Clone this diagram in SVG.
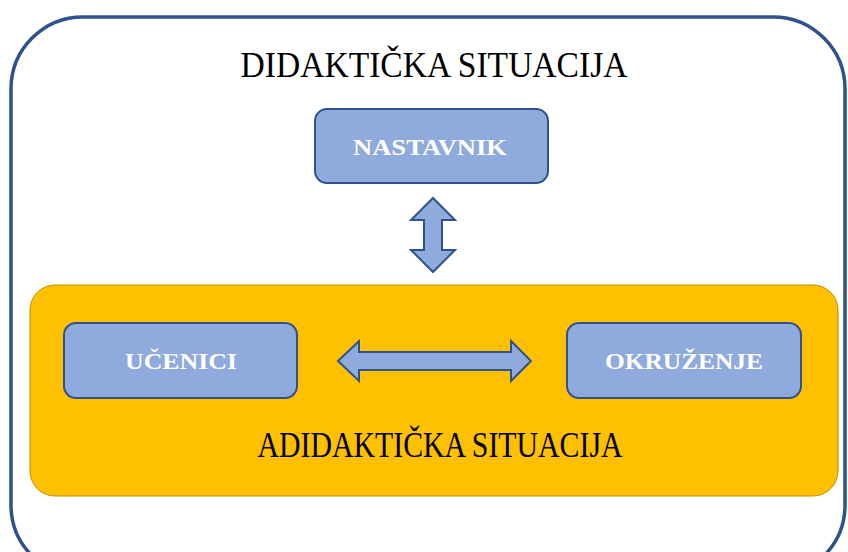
<svg xmlns="http://www.w3.org/2000/svg" width="848" height="552" viewBox="0 0 848 552">
<style>
.node rect{fill:#8FAADC;stroke:#2F528F;stroke-width:2}
.lbl{font-family:"Liberation Serif",serif;font-weight:bold;font-size:24px;fill:#FFFFFF;text-anchor:middle}
.title{font-family:"Liberation Serif",serif;font-size:36px;fill:#000000;text-anchor:middle}
.arrow{fill:#8FAADC;stroke:#2F528F;stroke-width:2;stroke-linejoin:miter}
</style>
<rect width="848" height="552" fill="#FFFFFF"/>
<g id="didakticka">
<rect x="11" y="17" width="834" height="560" rx="72" ry="72" fill="#FFFFFF" stroke="#2F528F" stroke-width="3.5"/>
<text class="title" x="434" y="77" textLength="387" lengthAdjust="spacingAndGlyphs">DIDAKTIČKA SITUACIJA</text>
</g>
<g id="adidakticka">
<rect x="30" y="285" width="808" height="211" rx="25" ry="25" fill="#FFC000" stroke="#BF9000" stroke-width="1"/>
<text class="title" x="440" y="457" font-size="31" textLength="365" lengthAdjust="spacingAndGlyphs">ADIDAKTIČKA SITUACIJA</text>
</g>
<g id="nastavnik" class="node">
<rect x="315" y="109" width="233" height="74" rx="12" ry="12"/>
<text class="lbl" x="430" y="155" textLength="154" lengthAdjust="spacingAndGlyphs">NASTAVNIK</text>
</g>
<g id="ucenici" class="node">
<rect x="64" y="323" width="233" height="75" rx="12" ry="12"/>
<text class="lbl" x="181" y="369" textLength="112" lengthAdjust="spacingAndGlyphs">UČENICI</text>
</g>
<g id="okruzenje" class="node">
<rect x="567" y="323" width="234" height="75" rx="12" ry="12"/>
<text class="lbl" x="684" y="369" textLength="158" lengthAdjust="spacingAndGlyphs">OKRUŽENJE</text>
</g>
<g id="connectors">
<path class="arrow" d="M433,198 L455,220 L442,220 L442,250 L455,250 L433,272 L411,250 L424,250 L424,220 L411,220 Z"/>
<path class="arrow" d="M338,361 L359,341 L359,352 L511,352 L511,341 L531,361 L511,381 L511,370 L359,370 L359,381 Z"/>
</g>
</svg>
